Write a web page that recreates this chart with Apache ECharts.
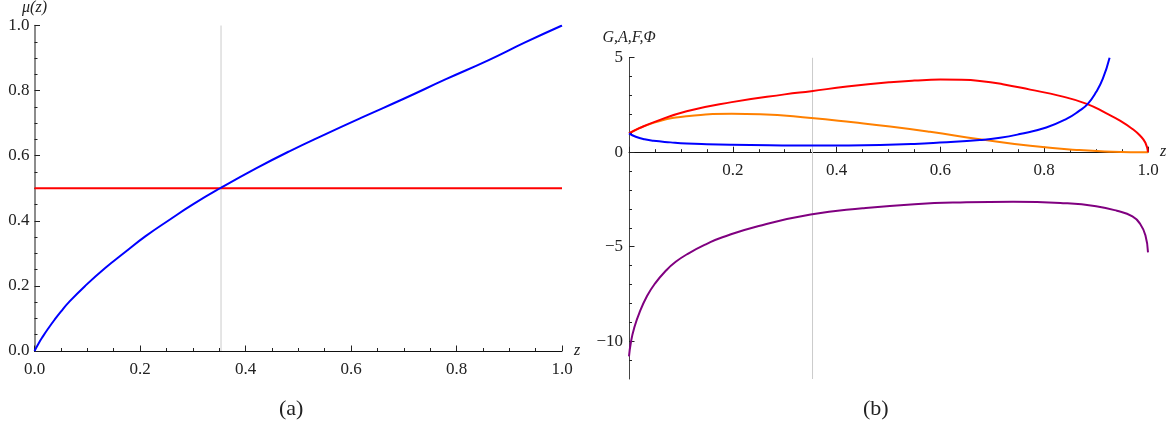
<!DOCTYPE html>
<html>
<head>
<meta charset="utf-8">
<style>
  html, body { margin: 0; padding: 0; background: #fff; }
  #chart { width: 1175px; height: 429px; }
</style>
<script src="https://cdn.jsdelivr.net/npm/echarts@6/dist/echarts.min.js"></script>
</head>
<body>
<div id="chart"></div>
<script>
// (a) mu(z)
const muZ = [0, 0.008, 0.016, 0.026, 0.038, 0.05, 0.064, 0.096, 0.134, 0.172, 0.21, 0.254, 0.301, 0.352, 0.42, 0.485, 0.55, 0.62, 0.7, 0.78, 0.86, 0.93, 1];
const muV = [0, 0.024, 0.045, 0.069, 0.096, 0.121, 0.148, 0.2, 0.255, 0.304, 0.352, 0.401, 0.451, 0.5, 0.561, 0.615, 0.665, 0.717, 0.775, 0.835, 0.893, 0.948, 1];
const halfZ = [0, 1];
const halfV = [0.5, 0.5];

// (b) G, A, F, Phi
const gZ = [0, 0.013, 0.03, 0.047, 0.08, 0.111, 0.15, 0.198, 0.27, 0.351, 0.42, 0.484, 0.55, 0.599, 0.676, 0.715, 0.753, 0.804, 0.843, 0.868, 0.884, 0.9, 0.913, 0.926];
const gV = [1, 0.82, 0.68, 0.6, 0.52, 0.46, 0.42, 0.39, 0.365, 0.35, 0.355, 0.38, 0.44, 0.51, 0.64, 0.76, 0.96, 1.31, 1.76, 2.2, 2.56, 3.18, 3.89, 5.0];
const aZ = [0, 0.02, 0.047, 0.111, 0.198, 0.3, 0.351, 0.42, 0.503, 0.55, 0.6, 0.64, 0.676, 0.72, 0.773, 0.83, 0.882, 0.92, 0.946, 0.97, 0.985, 0.995, 1];
const aV = [1, 1.27, 1.58, 2.17, 2.65, 3.06, 3.23, 3.47, 3.7, 3.79, 3.84, 3.83, 3.77, 3.6, 3.31, 2.98, 2.56, 2.05, 1.67, 1.23, 0.87, 0.5, 0];
const fZ = [0, 0.047, 0.111, 0.198, 0.253, 0.351, 0.432, 0.503, 0.58, 0.676, 0.773, 0.868, 0.932, 1];
const fV = [1, 1.55, 1.9, 2.03, 2.01, 1.81, 1.58, 1.36, 1.08, 0.69, 0.34, 0.11, 0.03, 0];
const phiZ = [0, 0.004, 0.01, 0.02, 0.035, 0.05, 0.07, 0.09, 0.115, 0.15, 0.18, 0.25, 0.35, 0.45, 0.55, 0.65, 0.74, 0.84, 0.9, 0.94, 0.97, 0.985, 0.995, 1];
const phiV = [-10.8, -10.0, -9.3, -8.5, -7.6, -6.95, -6.3, -5.8, -5.35, -4.85, -4.5, -3.9, -3.3, -2.97, -2.75, -2.65, -2.62, -2.7, -2.86, -3.1, -3.4, -3.8, -4.4, -5.3];

const markZ = 0.3536; // thin gray vertical line in both panels
const gYMin = -12, gYMax = 5;
const gYMajor = [-10, -5, 0, 5];
const gYMinor = [-11, -9, -8, -7, -6, -4, -3, -2, -1, 1, 2, 3, 4];

const zip = (xs, ys) => xs.map((x, i) => [x, ys[i]]);
const font = 'Liberation Serif';
const fmt1 = v => v.toFixed(1);
const tickStyle = { color: '#222', width: 1 };

const gridA = { left: 34.5, top: 25.5, width: 527.5, height: 325.5 };
const gridB = { left: 629, top: 57.7, width: 519, height: 321.3 };
// lift panel (b)'s z axis up to where G = 0
const zeroLift = gridB.height * (0 - gYMin) / (gYMax - gYMin);

function xAxisOf(grid, offset, showZero) {
  return {
    type: 'value', gridIndex: grid, min: 0, max: 1, interval: 0.2,
    position: 'bottom', offset: offset,
    name: 'z', nameLocation: 'end', nameGap: 12,
    nameTextStyle: { fontFamily: font, fontStyle: 'italic', fontSize: 16, color: '#222', padding: [7, 0, 0, 0] },
    axisLine: { show: true, onZero: false, lineStyle: { color: '#111', width: 1 } },
    axisTick: { show: true, inside: true, length: 5.5, lineStyle: tickStyle },
    minorTick: { show: true, splitNumber: 4, length: 3, lineStyle: tickStyle },
    axisLabel: {
      margin: grid === 0 ? 10 : 9.5, fontFamily: font, fontSize: 17, color: '#222',
      formatter: v => (v === 0 && !showZero) ? '' : fmt1(v)
    },
    splitLine: { show: false }
  };
}

const line = (xi, yi, data, color, w, smooth) => ({
  type: 'line', xAxisIndex: xi, yAxisIndex: yi, data: data,
  showSymbol: false, smooth: smooth,
  lineStyle: { color: color, width: w }, silent: true, z: 3
});

const chart = echarts.init(document.getElementById('chart'));
chart.setOption({
  animation: false,
  backgroundColor: '#fff',
  grid: [
    Object.assign({ outerBoundsMode: 'none' }, gridA),
    Object.assign({ outerBoundsMode: 'none' }, gridB)
  ],
  xAxis: [xAxisOf(0, 0, true), xAxisOf(1, -zeroLift, false)],
  yAxis: [
    {
      type: 'value', gridIndex: 0, min: 0, max: 1, interval: 0.2, position: 'left',
      name: 'μ(z)', nameLocation: 'end', nameGap: 10,
      nameTextStyle: { fontFamily: font, fontStyle: 'italic', fontSize: 16, color: '#222' },
      axisLine: { show: true, lineStyle: { color: '#666', width: 1.5 } },
      axisTick: { show: true, inside: true, length: 5.5, lineStyle: tickStyle },
      minorTick: { show: true, splitNumber: 4, length: 3, lineStyle: tickStyle },
      axisLabel: { margin: 5, fontFamily: font, fontSize: 17, color: '#222', formatter: fmt1 },
      splitLine: { show: false }
    },
    {
      type: 'value', gridIndex: 1, min: gYMin, max: gYMax, position: 'left',
      name: 'G,A,F,Φ', nameLocation: 'end', nameGap: 12,
      nameTextStyle: { fontFamily: font, fontStyle: 'italic', fontSize: 16, color: '#222' },
      axisLine: { show: true, onZero: false, lineStyle: { color: '#444', width: 1 } },
      axisTick: { show: true, inside: true, length: 5.5, customValues: gYMajor, lineStyle: tickStyle },
      axisLabel: {
        margin: 6, fontFamily: font, fontSize: 17, color: '#222', customValues: gYMajor,
        formatter: v => v < 0 ? '\u2212' + Math.abs(v) : String(v)
      },
      splitLine: { show: false }
    },
    {
      type: 'value', gridIndex: 1, min: gYMin, max: gYMax, position: 'left',
      axisLine: { show: false, onZero: false },
      axisTick: { show: true, inside: true, length: 3, customValues: gYMinor, lineStyle: tickStyle },
      axisLabel: { show: false },
      splitLine: { show: false }
    }
  ],
  graphic: [
    { type: 'text', left: 279, top: 398, style: { text: '(a)', fontFamily: font, fontSize: 22, fill: '#222' } },
    { type: 'text', left: 863, top: 398, style: { text: '(b)', fontFamily: font, fontSize: 22, fill: '#222' } }
  ],
  series: [
    line(0, 0, [[markZ, 0], [markZ, 1]], '#cccccc', 1, false),
    line(0, 0, zip(halfZ, halfV), '#ff0000', 2, false),
    line(0, 0, zip(muZ, muV), '#0000ff', 2, 0.5),
    line(1, 1, [[markZ, gYMin], [markZ, gYMax]], '#cccccc', 1, false),
    line(1, 1, zip(phiZ, phiV), '#800080', 2, 0.5),
    line(1, 1, zip(fZ, fV), '#ff8000', 2, 0.5),
    line(1, 1, zip(aZ, aV), '#ff0000', 2, 0.5),
    line(1, 1, zip(gZ, gV), '#0000ff', 2, 0.5)
  ]
});
</script>
</body>
</html>
